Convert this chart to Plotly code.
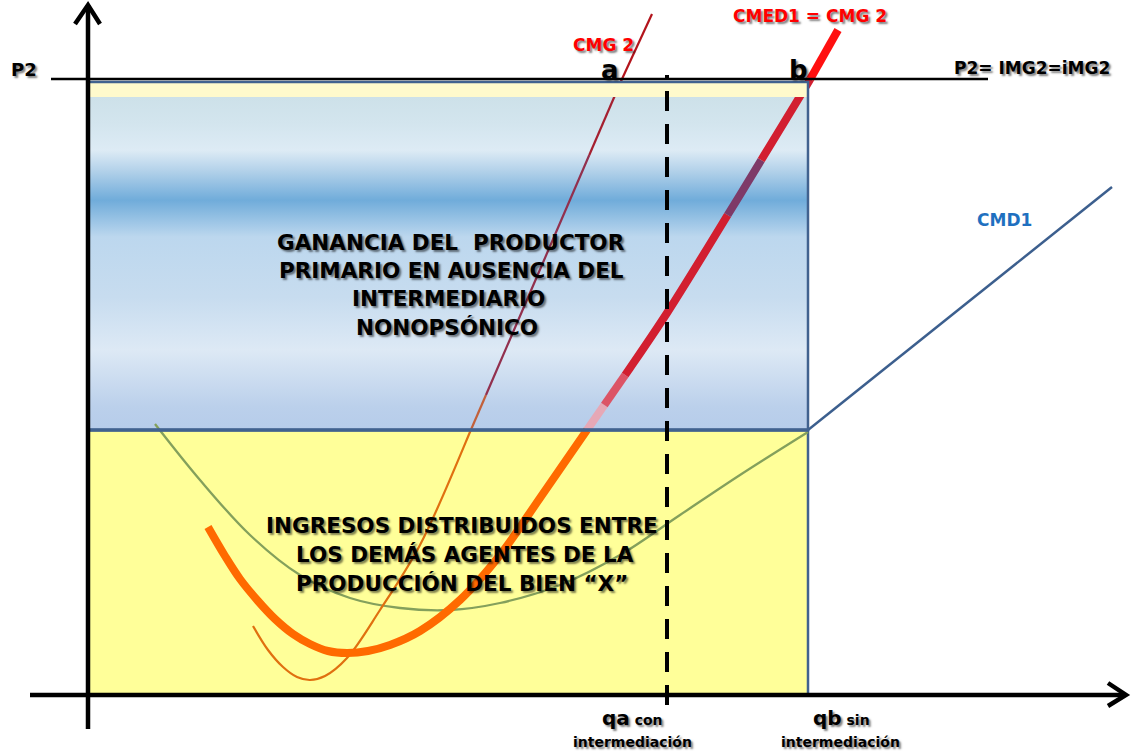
import plotly.graph_objects as go

# ---------------- data (q = quantity, p = price) ----------------
P2 = 616            # price level P2 = IMG2
Q_A = 579           # qa (with intermediation)
Q_B = 720           # qb (without intermediation)
P_CMD = 265         # CMD1 level at qb (lower/upper split)
P_STRIP = 598       # bottom of the light-yellow strip under P2

# CMG 2 (thin marginal cost curve)
cmg2_q = [165, 180, 195, 209, 222, 237, 259, 292, 332, 382, 426, 469, 534, 564]
cmg2_p = [69, 45, 28, 18, 15, 19, 37, 85, 150, 263, 365, 465, 616, 681]

# CMED1 = CMG 2 (thick curve)
cmed1_q = [120, 137, 152, 170, 187, 205, 222, 240, 259, 280, 302, 332, 372, 412, 452, 499, 542, 579, 652, 720, 750]
cmed1_p = [168, 139, 116, 94, 76, 61, 51, 44, 42, 44, 50, 64, 95, 140, 197, 265, 327, 382, 500, 612, 665]

# CMD1 (green U curve, continues as a straight blue line after qb)
cmd1_q = [67, 112, 162, 212, 262, 312, 362, 412, 472, 532, 592, 652, 720]
cmd1_p = [271, 215, 160, 120, 97, 87, 85, 92, 110, 140, 180, 220, 263]
cmd1_ext_q = [720, 1024]
cmd1_ext_p = [265, 508]

# blue gradient stops (fraction from bottom of profit area, colour)
grad_stops = [
    [0.00, "#B6CCEA"], [0.07, "#BBD0EB"], [0.24, "#DDE9F5"], [0.40, "#C7DCEF"],
    [0.58, "#BCD7EE"], [0.69, "#70ACDA"], [0.78, "#B4D2EA"], [0.84, "#DDEBF5"],
    [0.92, "#D3E5EE"], [1.00, "#CDE1E9"],
]

profit_lines = ["GANANCIA DEL  PRODUCTOR", "PRIMARIO EN AUSENCIA DEL", "INTERMEDIARIO", "NONOPSÓNICO"]
profit_pos = [(363, 453), (363, 425), (360, 397), (359, 368)]
income_lines = ["INGRESOS DISTRIBUIDOS ENTRE", "LOS DEMÁS AGENTES DE LA", "PRODUCCIÓN DEL BIEN “X”"]
income_pos = [(374, 170), (377, 141), (374, 112)]

# colour bands along the curves: (upper price bound, colour)
cmed1_bands = [(P_CMD, "#FF6A00"), (290, "#E6A8B6"), (320, "#DC5466"), (480, "#D21F30"),
               (535, "#7E3A68"), (P2, "#D21F30"), (9999, "#FF1010")]
cmg2_bands = [(P_CMD, "#E07010"), (300, "#C2603A"), (540, "#92304E"), (P2, "#A52030"), (9999, "#B3141C")]

FONT = "DejaVu Sans"
SHADOW = "2px 2px 2px rgba(0,0,0,0.5)"

fig = go.Figure()

# lower yellow area
fig.add_shape(type="rect", x0=0, x1=Q_B, y0=0, y1=P_CMD, fillcolor="#FFFF99",
              line=dict(color="#41628F", width=2.5), layer="below")
# upper gradient (profit) area via fillgradient
fig.add_trace(go.Scatter(
    x=[0, Q_B, Q_B, 0, 0], y=[P_CMD, P_CMD, P_STRIP, P_STRIP, P_CMD],
    mode="lines", fill="toself", line=dict(width=0),
    fillgradient=dict(type="vertical", colorscale=grad_stops),
    hoverinfo="skip", showlegend=False))
# light yellow strip
fig.add_shape(type="rect", x0=0, x1=Q_B, y0=P_STRIP, y1=P2 - 3, fillcolor="#FFFACC",
              line=dict(width=0), layer="above")
# border of profit area
fig.add_shape(type="rect", x0=0, x1=Q_B, y0=P_CMD, y1=P2 - 3, fillcolor="rgba(0,0,0,0)",
              line=dict(color="#41628F", width=2.5), layer="above")
fig.add_shape(type="line", x0=0, x1=Q_B, y0=P_CMD, y1=P_CMD,
              line=dict(color="#41628F", width=3.5), layer="above")

# P2 horizontal line
fig.add_shape(type="line", x0=-37, x1=900, y0=P2, y1=P2, line=dict(color="black", width=2.5))


def seg(q, p, color, width):
    if len(q) < 2:
        return
    fig.add_trace(go.Scatter(x=q, y=p, mode="lines",
                             line=dict(color=color, width=width, shape="spline", smoothing=1.0),
                             hoverinfo="skip", showlegend=False))


def split(q, p, level):
    lo_q, lo_p, hi_q, hi_p = [], [], [], []
    for i, (a, b) in enumerate(zip(q, p)):
        if i > 0:
            pa = p[i - 1]
            if (pa - level) * (b - level) < 0:
                t = (level - pa) / (b - pa)
                qc = q[i - 1] + t * (a - q[i - 1])
                lo_q.append(qc); lo_p.append(level)
                hi_q.append(qc); hi_p.append(level)
        if b <= level:
            lo_q.append(a); lo_p.append(b)
        if b >= level:
            hi_q.append(a); hi_p.append(b)
    return lo_q, lo_p, hi_q, hi_p


def banded(q, p, bands, width):
    rq, rp = list(q), list(p)
    for level, color in bands:
        lq, lp, rq, rp = split(rq, rp, level)
        seg(lq, lp, color, width)


# green CMD1
seg(cmd1_q, cmd1_p, "#84A05C", 2.3)
fig.add_trace(go.Scatter(x=cmd1_ext_q, y=cmd1_ext_p, mode="lines",
                         line=dict(color="#3C5F8E", width=2.5), hoverinfo="skip", showlegend=False))

# thin CMG 2 and thick CMED1 = CMG 2
banded(cmg2_q, cmg2_p, cmg2_bands, 2.2)
banded(cmed1_q, cmed1_p, cmed1_bands, 8)

# dashed qa line
fig.add_shape(type="line", x0=Q_A, x1=Q_A, y0=-10, y1=P2 + 4,
              line=dict(color="black", width=4, dash="20px,13px"), layer="above")

# axes with arrows
fig.add_shape(type="line", x0=0, x1=0, y0=-34, y1=690, line=dict(color="black", width=4.5), layer="above")
fig.add_shape(type="path", path="M -13 671 L 0 690 L 12 671", line=dict(color="black", width=4.5), layer="above")
fig.add_shape(type="line", x0=-58, x1=1037, y0=0, y1=0, line=dict(color="black", width=4.5), layer="above")
fig.add_shape(type="path", path="M 1020 12 L 1038 0 L 1020 -11", line=dict(color="black", width=4.5), layer="above")


def label(x, y, text, size, color="black", shadow=SHADOW):
    fig.add_annotation(x=x, y=y, text=text, showarrow=False, xanchor="center", yanchor="middle",
                       font=dict(family=FONT, size=size, color=color, shadow=shadow))


for t, (x, y) in zip(profit_lines, profit_pos):
    label(x, y, "<b>" + t + "</b>", 21.5)
for t, (x, y) in zip(income_lines, income_pos):
    label(x, y, "<b>" + t + "</b>", 21.5)

label(-64, 626, "<b>P2</b>", 18)
label(522, 625, "<b>a</b>", 26)
label(710, 625, "<b>b</b>", 26)
label(515, 650, "<b>CMG 2</b>", 17, color="#FF0000")
label(722, 679, "<b>CMED1 = CMG 2</b>", 17, color="#FF0000")
label(944, 627, "<b>P2= IMG2=iMG2</b>", 17)
label(916, 475, "<b>CMD1</b>", 17, color="#1F70C0", shadow="none")
label(544, -23, "<b><span style='font-size:20px'>qa</span> con</b>", 14)
label(544, -47, "<b>intermediación</b>", 14)
label(753, -23, "<b><span style='font-size:20px'>qb</span> sin</b>", 14)
label(752, -47, "<b>intermediación</b>", 14)

fig.update_layout(
    width=1133, height=751, autosize=False,
    margin=dict(l=0, r=0, t=0, b=0),
    paper_bgcolor="white", plot_bgcolor="white",
    xaxis=dict(range=[-88, 1045], visible=False, fixedrange=True),
    yaxis=dict(range=[-56, 695], visible=False, fixedrange=True),
    showlegend=False,
)

fig.write_html("out.html", config={"displayModeBar": False},
               post_script="document.body.style.margin='0';document.body.style.overflow='hidden';")
